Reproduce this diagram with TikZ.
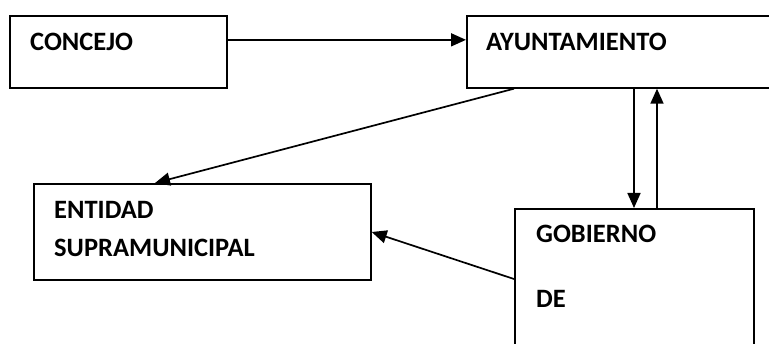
\documentclass[tikz,border=0pt]{standalone}
\usepackage{fontspec}
\setmainfont{Carlito}
\usetikzlibrary{arrows.meta}
\begin{document}
\begin{tikzpicture}[x=1pt,y=-1pt,
  box/.style={draw,line width=1.7pt,rectangle,inner sep=0,anchor=north west},
  lbl/.style={anchor=base west,inner sep=0,font=\fontsize{26.5}{30}\selectfont\bfseries},
  arr/.style={line width=1.7pt,-{Triangle[length=15pt,width=13pt]}}]
\clip (0,0) rectangle (769,344);
\fill[white] (0,0) rectangle (769,344);
\node[box,minimum width=217pt,minimum height=72pt] (con) at (9,15) {};
\node[box,minimum width=400pt,minimum height=72pt] (ayu) at (466,15) {};
\node[box,minimum width=337pt,minimum height=96pt] (ent) at (33,183) {};
\node[box,minimum width=239pt,minimum height=200pt] (gob) at (514,208) {};
\node[lbl] (tcon) at (30,51) {CONCEJO};
\node[lbl] (tayu) at (486,51) {AYUNTAMIENTO};
\node[lbl] (tent1) at (54,219) {ENTIDAD};
\node[lbl] (tent2) at (54,257) {SUPRAMUNICIPAL};
\node[lbl] (tgob1) at (536,243) {GOBIERNO};
\node[lbl] (tgob2) at (536,308) {DE};
\draw[arr] ([yshift=12pt]con.east) -- ([yshift=12pt]ayu.west);
\draw[arr] ([xshift=168pt]ayu.south west) -- ([xshift=120pt]gob.north west);
\draw[arr] ([xshift=143pt]gob.north west) -- ([xshift=191pt]ayu.south west);
\draw[arr] ([xshift=48pt]ayu.south west) -- ([xshift=122pt]ent.north west);
\draw[arr] ([yshift=-71pt]gob.north west) -- ([yshift=-49pt]ent.north east);
\end{tikzpicture}
\end{document}
